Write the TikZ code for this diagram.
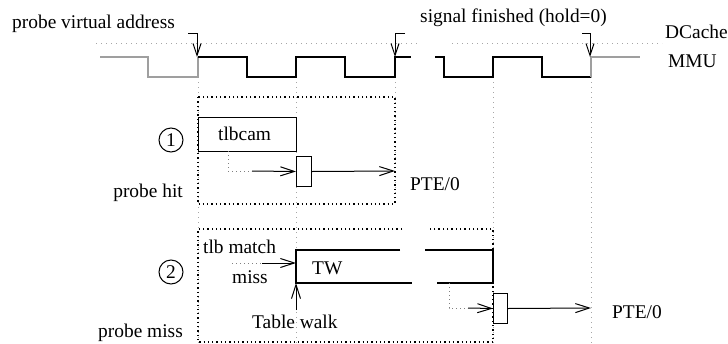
\documentclass[tikz,border=0pt]{standalone}
\usepackage{fontspec}
\setmainfont{Liberation Serif}
\usetikzlibrary{arrows.meta}
\begin{document}
\begin{tikzpicture}[x=1pt,y=-1pt,
  lbl/.style={inner sep=0pt, font=\fontsize{19.4}{23}\selectfont},
  guide/.style={gray!70, line width=1pt, dash pattern=on 1pt off 4pt},
  frame/.style={black, line width=1.3pt, dash pattern=on 1.3pt off 3pt},
  sig/.style={line width=2pt, line join=miter},
  oldsig/.style={gray!75, line width=1.3pt},
  thin/.style={line width=1pt},
  barb/.style={-{Straight Barb[length=14pt,width=9pt,line width=1pt]}, line width=1pt},
  hook/.style={-{Straight Barb[length=12pt,width=8pt,line width=1pt]}, line width=1pt},
  dotconn/.style={gray, line width=1pt, dash pattern=on 1pt off 3pt},
  numc/.style={circle, draw, thin, minimum size=24pt, inner sep=0pt, lbl}
]
\useasboundingbox (0,0) rectangle (728,343);

% ---- texts
\node[lbl, anchor=base west] (pva) at (12,28) {probe virtual address};
\node[lbl, anchor=base west] (sfin) at (420,22) {signal finished (hold=0)};
\node[lbl, anchor=base west] (dc) at (665,38) {DCache};
\node[lbl, anchor=base west] (mmu) at (668,67) {MMU};

% ---- DCache dotted line
\draw[guide] (96,43) -- (418,43);
\draw[guide] (452,43) -- (662,43);

% ---- guides
\draw[guide] (198,62) -- (198,343);
\draw[guide] (296,77) -- (296,343);
\draw[guide] (395,77) -- (395,204);
\draw[guide] (493,77) -- (493,343);
\draw[guide] (591,77) -- (591,343);

% ---- MMU signal
\draw[oldsig] (100,57) -- (148,57) -- (148,77) -- (198,77) -- (198,57);
\draw[sig] (198,57) -- (247,57) -- (247,77) -- (296,77) -- (296,57) -- (345,57)
  -- (345,77) -- (395,77) -- (395,57) -- (411,57);
\draw[sig] (435,57) -- (444,57) -- (444,77) -- (493,77) -- (493,57) -- (542,57)
  -- (542,77) -- (591,77);
\draw[oldsig] (591,77) -- (591,57) -- (640,57);

% ---- hook arrows
\coordinate (h1s) at (188,33); \coordinate (h1e) at (197,57);
\coordinate (h2s) at (405,33); \coordinate (h2e) at (395,57);
\coordinate (h3s) at (582,33); \coordinate (h3e) at (590,57);
\draw[hook] (h1s) -| (h1e);
\draw[hook] (h2s) -| (h2e);
\draw[hook] (h3s) -| (h3e);

% ---- case 1
\draw[frame] (198,97) rectangle (395,204);
\node[numc] (c1) at (171,140) {1};
\node[lbl, anchor=base east] (phit) at (183,197) {probe hit};
\node[draw, thin, minimum width=98pt, minimum height=34pt, inner sep=0pt, anchor=north west] (tlbcam) at (198,117) {};
\node[lbl, anchor=base west] (tlbt) at (218,140) {tlbcam};
\node[draw, thin, minimum width=15pt, minimum height=30pt, inner sep=0pt, anchor=north west] (r1) at (296,156) {};
\coordinate (d1a) at (228,151);
\coordinate (d1b) at (228,171);
\coordinate (d1c) at (252,171);
\coordinate (p1) at (395,171);
\draw[dotconn] (d1a) -- (d1b) -- (d1c);
\draw[barb] (d1c) -- (r1.west);
\draw[barb] (r1.east) -- (p1);
\node[lbl, anchor=base west] (pte1) at (410,190) {PTE/0};

% ---- case 2
\draw[frame] (402,229) -- (198,229) -- (198,342) -- (493,342) -- (493,229) -- (428,229);
\node[numc] (c2) at (171,272) {2};
\node[lbl, anchor=base east] (pmiss) at (183,337) {probe miss};
\draw[sig] (400,250) -- (296,250) -- (296,283) -- (412,283);
\draw[sig] (425,250) -- (493,250) -- (493,283) -- (437,283);
\node[lbl, anchor=base west] (twt) at (312,274) {TW};
\node[lbl, anchor=base west] (tlbm) at (203,253) {tlb match};
\node[lbl, anchor=base west] (miss) at (232,283) {miss};
\coordinate (m1) at (232,263);
\coordinate (m2) at (262,263);
\coordinate (tw1) at (296,263);
\draw[dotconn] (m1) -- (m2);
\draw[barb] (m2) -- (tw1);
\coordinate (tws) at (296,310);
\coordinate (twe) at (296,283);
\draw[barb] (tws) -- (twe);
\node[lbl, anchor=base west] (tabw) at (252,328) {Table walk};
\node[draw, thin, minimum width=14pt, minimum height=30pt, inner sep=0pt, anchor=north west] (r2) at (493,293) {};
\coordinate (d2a) at (449,283);
\coordinate (d2b) at (449,308);
\coordinate (d2c) at (468,308);
\coordinate (p2) at (591,308);
\draw[dotconn] (d2a) -- (d2b) -- (d2c);
\draw[barb] (d2c) -- (r2.west);
\draw[barb] (r2.east) -- (p2);
\node[lbl, anchor=base west] (pte2) at (612,318) {PTE/0};
\end{tikzpicture}
\end{document}
